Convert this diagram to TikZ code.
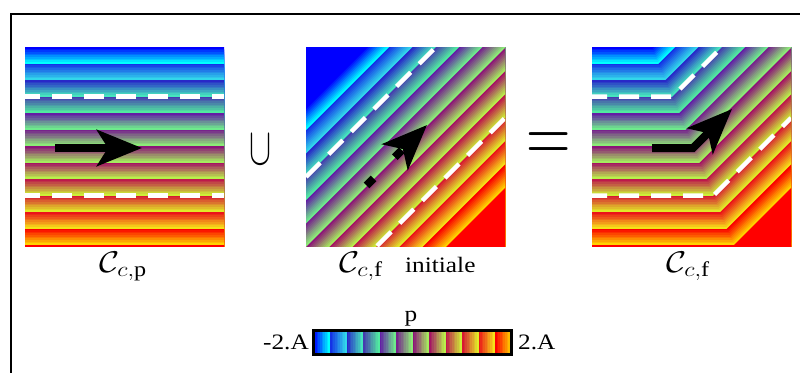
\RequirePackage{fix-cm}
\documentclass[tikz,border=0pt]{standalone}
\usepackage{fontspec}
\setmainfont{Liberation Serif}
\usetikzlibrary{arrows.meta}

% band colours: base (low end) and tip (high end) of each of the 12 bands
\definecolor{b0}{RGB}{0,0,255}     \definecolor{t0}{RGB}{0,255,255}
\definecolor{b1}{RGB}{20,50,230}   \definecolor{t1}{RGB}{50,215,235}
\definecolor{b2}{RGB}{40,40,200}   \definecolor{t2}{RGB}{70,230,190}
\definecolor{b3}{RGB}{70,60,175}   \definecolor{t3}{RGB}{80,235,160}
\definecolor{b4}{RGB}{100,30,165}  \definecolor{t4}{RGB}{110,235,140}
\definecolor{b5}{RGB}{120,35,140}  \definecolor{t5}{RGB}{140,235,120}
\definecolor{b6}{RGB}{140,20,120}  \definecolor{t6}{RGB}{165,235,95}
\definecolor{b7}{RGB}{165,20,100}  \definecolor{t7}{RGB}{185,240,75}
\definecolor{b8}{RGB}{190,25,75}   \definecolor{t8}{RGB}{205,240,55}
\definecolor{b9}{RGB}{215,25,50}   \definecolor{t9}{RGB}{225,235,40}
\definecolor{b10}{RGB}{235,20,25}  \definecolor{t10}{RGB}{245,225,25}
\definecolor{b11}{RGB}{250,0,0}    \definecolor{t11}{RGB}{255,210,0}
\definecolor{satred}{RGB}{255,0,0}

\newcommand\NSteps{10}
\newcommand\setlvl[1]{%
  \pgfmathtruncatemacro\LvB{floor(#1/\NSteps)}%
  \pgfmathtruncatemacro\LvJ{#1-\LvB*\NSteps}%
  \pgfmathtruncatemacro\LvP{round(100*\LvJ/(\NSteps-1))}%
  \ifnum\LvB>11 \colorlet{lvl}{satred}\else\colorlet{lvl}{t\LvB!\LvP!b\LvB}\fi}
\newcommand\wide[1]{\scalebox{1.15}[1]{#1}}

\tikzset{
  wdash/.style={white, line width=4.5pt, dash pattern=on 20pt off 12pt},
  bigarrow/.style={line width=8pt, line join=miter,
    -{Stealth[length=45pt,width=36pt,inset=11pt]}},
  lbl/.style={inner sep=0pt, anchor=base, font=\fontsize{30}{34}\selectfont},
  txt/.style={inner sep=0pt, font=\fontsize{22}{26}\selectfont}
}

\begin{document}
\begin{tikzpicture}[x=1pt,y=-1pt]
\useasboundingbox (0,0) rectangle (800,372);
\clip (0,0) rectangle (800,372);
\fill[white] (0,0) rectangle (800,372);
\draw[line width=2.5pt] (11,14) rectangle (830,400);

% ---------- panel 1 : horizontal bands
\begin{scope}[shift={(25,47)}]
  \clip (0,0) rectangle (199,199);
  \foreach \k in {0,...,120}{%
    \setlvl{\k}\pgfmathsetmacro\yy{1.65*\k}%
    \fill[lvl] (0,\yy) rectangle (210,210);}
  \draw[wdash, dash phase=5pt] (0,49.5) -- (199,49.5);
  \draw[wdash, dash phase=5pt] (0,148.5) -- (199,148.5);
\end{scope}

% ---------- panel 2 : diagonal bands
\begin{scope}[shift={(306,47)}]
  \clip (0,0) rectangle (199,199);
  \fill[b0] (0,0) rectangle (210,210);
  \foreach \k in {0,...,120}{%
    \setlvl{\k}\pgfmathsetmacro\ss{60+2.33333*\k}%
    \fill[lvl] (\ss,0) -- (500,0) -- (500,500) -- (0,500) -- (0,\ss) -- cycle;}
  \draw[wdash] (0,130) -- (130,0);
  \draw[wdash] (71,199) -- (199,71);
\end{scope}

% ---------- panel 3 : max of both
\begin{scope}[shift={(592,47)}]
  \clip (0,0) rectangle (199,199);
  \foreach \k in {0,...,120}{%
    \setlvl{\k}\pgfmathsetmacro\yy{1.65*\k}\pgfmathsetmacro\ss{60+2.33333*\k}%
    \fill[lvl] (0,\yy) rectangle (210,210);
    \fill[lvl] (\ss,0) -- (500,0) -- (500,500) -- (0,500) -- (0,\ss) -- cycle;}
  \draw[wdash, dash phase=5pt] (0,49.5) -- (80.5,49.5) -- (130,0);
  \draw[wdash, dash phase=5pt] (0,148.5) -- (121.5,148.5) -- (199,71);
\end{scope}

% ---------- arrows
\coordinate (a1s) at (55,148);
\coordinate (a1e) at (142,148);
\draw[bigarrow] (a1s) -- (a1e);
\coordinate (a2s) at (366.5,185.5);
\coordinate (a2e) at (427,125);
\draw[bigarrow, dash pattern=on 10pt off 30pt] (a2s) -- (a2e);
\coordinate (a3s) at (652,148);
\coordinate (a3m) at (693,148);
\coordinate (a3e) at (732,109);
\draw[bigarrow] (a3s) -- (a3m) -- (a3e);

% ---------- operators
\node (cup) at (260,150) {\fontsize{33}{36}\selectfont\scalebox{1}[1.6]{$\cup$}};
\node (eq) at (549,148) {\fontsize{56}{60}\selectfont\scalebox{1.1}[1.5]{$=$}};

% ---------- labels
\node[lbl, anchor=base west] (l1) at (99,272) {\wide{$\mathcal{C}_{c,\mathrm{p}}$}};
\node[lbl, anchor=base west] (l2) at (339,272) {\wide{$\mathcal{C}_{c,\mathrm{f}}$}};
\node[txt, anchor=base west] (l2b) at (405,272) {\wide{initiale}};
\node[lbl, anchor=base west] (l3) at (666,272) {\wide{$\mathcal{C}_{c,\mathrm{f}}$}};

% ---------- colour bar
\foreach \k in {0,...,119}{%
  \setlvl{\k}\pgfmathsetmacro\xa{313.5+1.65*\k}\pgfmathsetmacro\xb{313.5+1.65*\k+2.05}%
  \fill[lvl] (\xa,330.5) rectangle (\xb,354);}
\node[draw, line width=3pt, minimum width=198pt, minimum height=23.5pt, inner sep=0pt] (cbar) at (412.5,342.25) {};
\node[txt, anchor=base] (pl) at (411,321) {\wide{p}};
\node[txt, anchor=east] (lo) at ([xshift=-3pt]cbar.west) {\wide{-2.A}};
\node[txt, anchor=west] (hi) at ([xshift=5pt]cbar.east) {\wide{2.A}};
\end{tikzpicture}
\end{document}
